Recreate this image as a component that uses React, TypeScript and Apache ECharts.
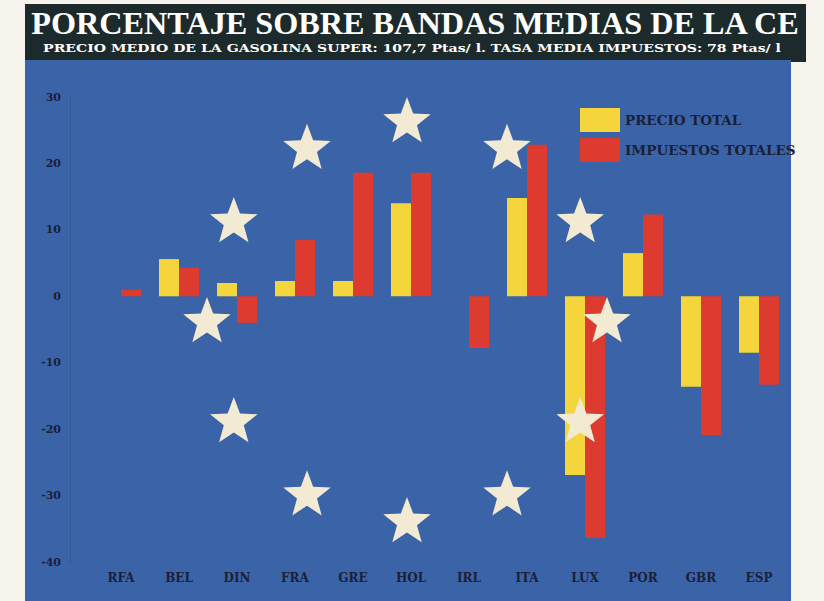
import React, { useEffect, useRef } from "react";
import * as echarts from "echarts";

const categories = ["RFA", "BEL", "DIN", "FRA", "GRE", "HOL", "IRL", "ITA", "LUX", "POR", "GBR", "ESP"];
const precioTotal = [0, 5.6, 2.0, 2.3, 2.3, 14.0, 0, 14.8, -26.9, 6.5, -13.6, -8.5];
const impuestosTotales = [1.0, 4.3, -4.0, 8.5, 18.6, 18.6, -7.8, 22.8, -36.4, 12.3, -20.9, -13.3];
const seriesNames = ["PRECIO TOTAL", "IMPUESTOS TOTALES"];
const titleText = "PORCENTAJE SOBRE BANDAS MEDIAS DE LA CE";
const subtitleText = "PRECIO MEDIO DE LA GASOLINA SUPER: 107,7 Ptas/ l. TASA MEDIA IMPUESTOS: 78 Ptas/ l";

const BLUE = "#3a63a8";
const YELLOW = "#f4d63c";
const RED = "#dd3a30";
const DARK = "#1c2a2b";
const INK = "#1a2035";
const STAR = "#f2ead2";
const FONT = "'DejaVu Serif', serif";

function starPoints(cx: number, cy: number, R: number, r: number): number[][] {
  const pts: number[][] = [];
  for (let i = 0; i < 10; i++) {
    const a = -Math.PI / 2 + (i * Math.PI) / 5;
    const rad = i % 2 === 0 ? R : r;
    pts.push([cx + rad * Math.cos(a), cy + rad * Math.sin(a)]);
  }
  return pts;
}

export default function App() {
  const ref = useRef<HTMLDivElement>(null);
  useEffect(() => {
    if (!ref.current) return;
    const chart = echarts.init(ref.current, undefined, { renderer: "svg" });
    const stars: any[] = [];
    for (let k = 0; k < 12; k++) {
      const ang = -Math.PI / 2 + (k * Math.PI) / 6;
      const cx = 407 + 200 * Math.cos(ang);
      const cy = 322 + 200 * Math.sin(ang);
      stars.push({
        type: "polygon",
        z: 100,
        shape: { points: starPoints(cx, cy, 25, 10.5) },
        style: { fill: STAR },
      });
    }
    const option: any = {
      animation: false,
      backgroundColor: "#f5f3ec",
      graphic: [
        { type: "rect", z: -10, shape: { x: 25, y: 4, width: 781, height: 58 }, style: { fill: DARK } },
        { type: "rect", z: -10, shape: { x: 25, y: 60, width: 766, height: 541 }, style: { fill: BLUE } },
        {
          type: "text",
          z: 10,
          x: 415,
          y: 24,
          scaleX: 1.04,
          style: {
            text: titleText,
            fill: "#ffffff",
            font: "bold 31px 'Liberation Serif', serif",
            textAlign: "center",
            textVerticalAlign: "middle",
          },
        },
        {
          type: "text",
          z: 10,
          x: 412,
          y: 48,
          scaleX: 1.34,
          style: {
            text: subtitleText,
            fill: "#ffffff",
            font: "bold 10.5px 'DejaVu Serif', serif",
            textAlign: "center",
            textVerticalAlign: "middle",
          },
        },
        ...stars,
      ],
      legend: {
        data: seriesNames,
        orient: "vertical",
        left: 575,
        top: 103,
        itemWidth: 40,
        itemHeight: 24,
        itemGap: 6,
        icon: "rect",
        textStyle: { color: INK, fontFamily: FONT, fontWeight: "bold", fontSize: 13.5 },
      },
      grid: { left: 92, right: 36, top: 97, bottom: 39, containLabel: false },
      xAxis: {
        type: "category",
        data: categories,
        axisLine: { show: false, onZero: false },
        axisTick: { show: false },
        axisLabel: {
          color: INK,
          fontFamily: FONT,
          fontWeight: "bold",
          fontSize: 12,
          margin: 10,
        },
      },
      yAxis: {
        type: "value",
        min: -40,
        max: 30,
        interval: 10,
        offset: 22,
        axisLine: { show: true, lineStyle: { color: "rgba(40,60,110,0.35)" } },
        axisTick: { show: false },
        splitLine: { show: false },
        axisLabel: {
          color: INK,
          fontFamily: FONT,
          fontWeight: "bold",
          fontSize: 11,
          margin: 9,
        },
      },
      series: [
        {
          name: seriesNames[0],
          type: "bar",
          data: precioTotal,
          barWidth: 20,
          barGap: "0%",
          itemStyle: { color: YELLOW },
        },
        {
          name: seriesNames[1],
          type: "bar",
          data: impuestosTotales,
          barWidth: 20,
          barGap: "0%",
          itemStyle: { color: RED },
        },
      ],
    };
    chart.setOption(option);
    return () => chart.dispose();
  }, []);
  return <div ref={ref} style={{ position: "fixed", left: 0, top: 0, width: 824, height: 601 }} />;
}
